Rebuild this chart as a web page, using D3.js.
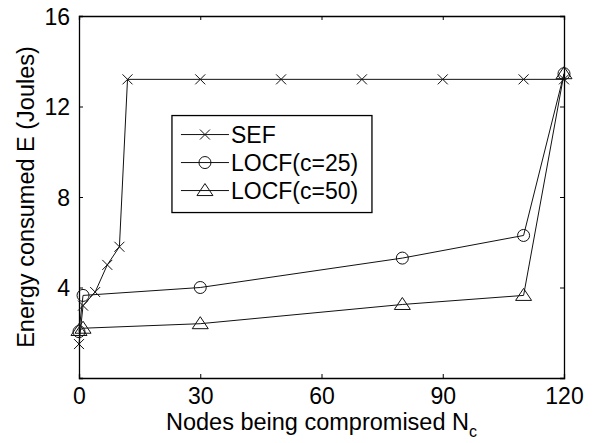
<!DOCTYPE html>
<html lang="en">
<head>
<meta charset="UTF-8">
<title>Energy consumed vs nodes compromised</title>
<script src="https://d3js.org/d3.v7.min.js"></script>
<style>
    body { margin: 0; background: #fff; }
    svg { font-family: "Liberation Sans", Arial, sans-serif; }
    .tick text { font-size: 23px; fill: #000; }
</style>
</head>
<body>
<div id="chart"></div>
<script>
// data
const sefX = [0, 1, 4, 7, 10, 12, 30, 50, 70, 90, 110, 120];
const sefY = [1.5, 3.2, 3.8, 5.0, 5.8, 13.2, 13.2, 13.2, 13.2, 13.2, 13.2, 13.2];
const locf25X = [0, 1, 30, 80, 110, 120];
const locf25Y = [2.05, 3.65, 4.0, 5.3, 6.3, 13.45];
const locf50X = [0, 1, 30, 80, 110, 120];
const locf50Y = [2.1, 2.2, 2.4, 3.25, 3.65, 13.45];
const xTicks = [0, 30, 60, 90, 120];
const yTicks = [4, 8, 12, 16];
const seriesNames = ["SEF", "LOCF(c=25)", "LOCF(c=50)"];
const markerKinds = ["cross", "circle", "triangle"];

const W = 596, H = 443;
const margin = { top: 16, right: 32, bottom: 65, left: 79 };
const width = W - margin.left - margin.right;
const height = H - margin.top - margin.bottom;

const svg = d3.select("#chart").append("svg")
    .attr("width", W).attr("height", H);
const g = svg.append("g")
    .attr("transform", `translate(${margin.left},${margin.top})`);

const x = d3.scaleLinear().domain([0, 120]).range([0, width]);
const y = d3.scaleLinear().domain([0, 16]).range([height, 0]);

// axes (ticks point inward, box on all four sides)
const tk = 4;
const xAxisG = g.append("g").attr("transform", `translate(0,${height})`)
    .call(d3.axisBottom(x).tickValues(xTicks).tickSize(-tk).tickPadding(tk + 6).tickFormat(d3.format("d")));
const yAxisG = g.append("g")
    .call(d3.axisLeft(y).tickValues(yTicks).tickSize(-tk).tickPadding(tk + 5).tickFormat(d3.format("d")));
g.append("g")
    .call(d3.axisTop(x).tickValues(xTicks).tickSize(-tk).tickFormat(""));
g.append("g").attr("transform", `translate(${width},0)`)
    .call(d3.axisRight(y).tickValues(yTicks).tickSize(-tk).tickFormat(""));
g.selectAll(".domain").attr("stroke", "#000").attr("stroke-width", 1.3);
g.selectAll(".tick line").attr("stroke", "#000");
xAxisG.selectAll(".tick text").attr("dy", "0.71em");
yAxisG.selectAll(".tick text").attr("dy", "0.35em");

// marker shapes
function marker(sel, kind) {
    if (kind === "cross") {
        sel.append("path").attr("d", "M-5,-5L5,5M-5,5L5,-5");
    } else if (kind === "circle") {
        sel.append("circle").attr("r", 6);
    } else {
        sel.append("path").attr("d", "M0,-7L8,5L-8,5Z");
    }
    sel.attr("fill", "none").attr("stroke", "#111").attr("stroke-width", 1);
}

const series = [
    { xs: sefX, ys: sefY },
    { xs: locf25X, ys: locf25Y },
    { xs: locf50X, ys: locf50Y }
];

const line = d3.line().x(d => x(d[0])).y(d => y(d[1]));
series.forEach((s, i) => {
    const pts = s.xs.map((v, j) => [v, s.ys[j]]);
    g.append("path").datum(pts)
        .attr("d", line)
        .attr("fill", "none").attr("stroke", "#111").attr("stroke-width", 1);
    g.selectAll(null).data(pts).enter().append("g")
        .attr("transform", d => `translate(${x(d[0])},${y(d[1])})`)
        .each(function () { marker(d3.select(this), markerKinds[i]); });
});

// legend
const leg = g.append("g").attr("transform", `translate(${x(23)},${y(11.6)})`);
leg.append("rect").attr("width", 200).attr("height", 97)
    .attr("fill", "#fff").attr("stroke", "#000").attr("stroke-width", 1.3);
seriesNames.forEach((name, i) => {
    const ry = 19 + i * 28;
    const row = leg.append("g").attr("transform", `translate(0,${ry})`);
    row.append("line").attr("x1", 9).attr("x2", 57).attr("y1", 0).attr("y2", 0)
        .attr("stroke", "#111").attr("stroke-width", 1);
    const m = row.append("g").attr("transform", "translate(33,0)");
    marker(m, markerKinds[i]);
    row.append("text").attr("x", 59).attr("y", 0).attr("dy", "0.35em")
        .attr("font-size", 23).text(name);
});

// axis titles
const xl = svg.append("text")
    .attr("x", margin.left + width / 2).attr("y", 430)
    .attr("text-anchor", "middle").attr("font-size", 23.5);
xl.append("tspan").text("Nodes being compromised N");
xl.append("tspan").attr("dy", 7).attr("font-size", 16).text("c");

svg.append("text")
    .attr("transform", `translate(34,${margin.top + height / 2}) rotate(-90)`)
    .attr("text-anchor", "middle").attr("font-size", 23.5)
    .text("Energy consumed E (Joules)");
</script>
</body>
</html>
